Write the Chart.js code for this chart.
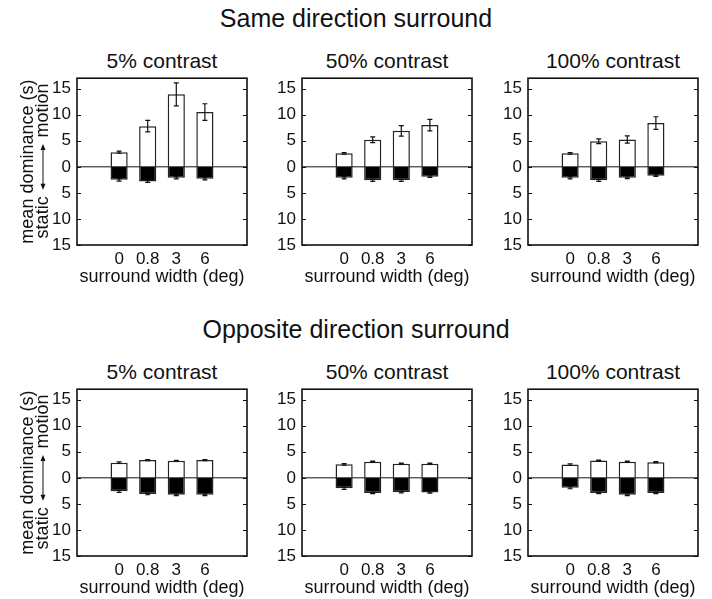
<!DOCTYPE html>
<html>
<head>
<meta charset="utf-8">
<script src="https://cdn.jsdelivr.net/npm/chart.js@4.4.1/dist/chart.umd.min.js"></script>
<style>
  body { margin: 0; background: #fff; }
  #fig { position: relative; width: 712px; height: 599px; font-family: "Liberation Sans", Arial, sans-serif; color: #111; }
  .main { position: absolute; left: 0; width: 712px; text-align: center; font-size: 25px; line-height: 25px; white-space: nowrap; }
  .ptitle { position: absolute; width: 170px; text-align: center; font-size: 21px; line-height: 21px; white-space: nowrap; }
  canvas { position: absolute; }
</style>
</head>
<body>
<div id="fig"></div>
<script>
// surround widths (x categories) and y ticks
const widths = ['0', '0.8', '3', '6'];
const yTickVals = [-15, -10, -5, 0, 5, 10, 15];
const contrasts = ['5% contrast', '50% contrast', '100% contrast'];
const rowTitles = ['Same direction surround', 'Opposite direction surround'];

// same direction surround: mean dominance (s)
const sameMotion5 = [2.8, 7.8, 13.9, 10.5];
const sameMotionErr5 = [0.2, 1.1, 2.2, 1.6];
const sameStatic5 = [2.5, 2.8, 2.1, 2.3];
const sameStaticErr5 = [0.25, 0.2, 0.2, 0.2];
const sameMotion50 = [2.6, 5.2, 6.9, 8.0];
const sameMotionErr50 = [0.15, 0.55, 1.0, 1.1];
const sameStatic50 = [2.1, 2.6, 2.6, 1.9];
const sameStaticErr50 = [0.2, 0.2, 0.2, 0.15];
const sameMotion100 = [2.6, 4.9, 5.25, 8.4];
const sameMotionErr100 = [0.15, 0.45, 0.7, 1.2];
const sameStatic100 = [2.1, 2.6, 2.1, 1.7];
const sameStaticErr100 = [0.2, 0.2, 0.15, 0.15];

// opposite direction surround
const oppMotion5 = [2.9, 3.4, 3.25, 3.4];
const oppMotionErr5 = [0.15, 0.1, 0.1, 0.1];
const oppStatic5 = [2.6, 3.1, 3.25, 3.25];
const oppStaticErr5 = [0.2, 0.15, 0.15, 0.15];
const oppMotion50 = [2.6, 3.1, 2.7, 2.7];
const oppMotionErr50 = [0.15, 0.1, 0.1, 0.1];
const oppStatic50 = [2.0, 2.9, 2.75, 2.8];
const oppStaticErr50 = [0.2, 0.15, 0.15, 0.15];
const oppMotion100 = [2.55, 3.3, 3.1, 3.0];
const oppMotionErr100 = [0.15, 0.1, 0.1, 0.1];
const oppStatic100 = [1.9, 2.9, 3.25, 2.9];
const oppStaticErr100 = [0.2, 0.15, 0.15, 0.15];

const panels = [
  [[sameMotion5, sameMotionErr5, sameStatic5, sameStaticErr5],
   [sameMotion50, sameMotionErr50, sameStatic50, sameStaticErr50],
   [sameMotion100, sameMotionErr100, sameStatic100, sameStaticErr100]],
  [[oppMotion5, oppMotionErr5, oppStatic5, oppStaticErr5],
   [oppMotion50, oppMotionErr50, oppStatic50, oppStaticErr50],
   [oppMotion100, oppMotionErr100, oppStatic100, oppStaticErr100]]
];

const boxLeft = [77, 302, 528];
const boxTop = [74, 385];
const ink = '#111';
const tickFont = { family: '"Liberation Sans", Arial, sans-serif', size: 17 };
const labelFont = { family: '"Liberation Sans", Arial, sans-serif', size: 18 };

// error bars, frame, zero line, inner ticks and the y label
const panelDecor = {
  id: 'panelDecor',
  afterDatasetsDraw(chart, args, opts) {
    const { ctx, chartArea: a, scales: { x, y } } = chart;
    ctx.save();
    ctx.strokeStyle = ink;
    ctx.lineWidth = 1.2;
    chart.data.datasets.forEach(ds => {
      ds.errors.forEach((e, j) => {
        const pt = ds.data[j];
        const px = x.getPixelForValue(pt.x);
        const y0 = y.getPixelForValue(pt.y - e);
        const y1 = y.getPixelForValue(pt.y + e);
        ctx.beginPath();
        ctx.moveTo(px, y0); ctx.lineTo(px, y1);
        ctx.moveTo(px - 2.5, y0); ctx.lineTo(px + 2.5, y0);
        ctx.moveTo(px - 2.5, y1); ctx.lineTo(px + 2.5, y1);
        ctx.stroke();
      });
    });

    // zero line
    const z = y.getPixelForValue(0);
    ctx.lineWidth = 1;
    ctx.beginPath();
    ctx.moveTo(a.left, z); ctx.lineTo(a.right, z);
    ctx.stroke();

    // inward ticks
    y.ticks.forEach(t => {
      const py = Math.round(y.getPixelForValue(t.value)) + 0.5;
      ctx.beginPath();
      ctx.moveTo(a.left, py); ctx.lineTo(a.left + 4, py);
      ctx.moveTo(a.right - 4, py); ctx.lineTo(a.right, py);
      ctx.stroke();
    });

    // frame
    ctx.lineWidth = 1.6;
    ctx.strokeRect(a.left, a.top, a.right - a.left, a.bottom - a.top);

    if (opts.yTitle) {
      ctx.fillStyle = ink;
      ctx.font = '18px "Liberation Sans", Arial, sans-serif';
      ctx.textAlign = 'center';
      ctx.textBaseline = 'alphabetic';
      const rot = (txt, px, py) => {
        ctx.save();
        ctx.translate(px, py);
        ctx.rotate(-Math.PI / 2);
        ctx.fillText(txt, 0, 0);
        ctx.restore();
      };
      rot('mean dominance (s)', a.left - 44, (a.top + a.bottom) / 2);
      rot('motion', a.left - 29, y.getPixelForValue(10.8));
      rot('static', a.left - 29, y.getPixelForValue(-9.7));
      // double arrow
      const ax = a.left - 34;
      const ya = y.getPixelForValue(4.4), yb = y.getPixelForValue(-4.4);
      ctx.lineWidth = 1;
      ctx.beginPath();
      ctx.moveTo(ax, ya + 2); ctx.lineTo(ax, yb - 2);
      ctx.stroke();
      ctx.beginPath();
      ctx.moveTo(ax, ya); ctx.lineTo(ax - 2.5, ya + 6); ctx.lineTo(ax + 2.5, ya + 6); ctx.closePath();
      ctx.moveTo(ax, yb); ctx.lineTo(ax - 2.5, yb - 6); ctx.lineTo(ax + 2.5, yb - 6); ctx.closePath();
      ctx.fill();
    }
    ctx.restore();
  }
};

const fig = document.getElementById('fig');

rowTitles.forEach((t, r) => {
  const d = document.createElement('div');
  d.className = 'main';
  d.style.top = (boxTop[r] - 68) + 'px';
  d.textContent = t;
  fig.appendChild(d);
});

panels.forEach((row, r) => {
  row.forEach((p, c) => {
    const [motion, motionErr, stat, statErr] = p;

    const title = document.createElement('div');
    title.className = 'ptitle';
    title.style.left = boxLeft[c] + 'px';
    title.style.top = (boxTop[r] - 24) + 'px';
    title.textContent = contrasts[c];
    fig.appendChild(title);

    const canvas = document.createElement('canvas');
    canvas.width = 250;
    canvas.height = 12 + 171 + 43;
    canvas.style.left = (boxLeft[c] - 70) + 'px';
    canvas.style.top = (boxTop[r] - 12) + 'px';
    fig.appendChild(canvas);

    new Chart(canvas.getContext('2d'), {
      type: 'bar',
      data: {
        datasets: [
          {
            label: 'motion',
            data: motion.map((v, i) => ({ x: i + 1, y: v })),
            errors: motionErr,
            backgroundColor: '#fff',
            borderColor: '#222',
            borderWidth: 1.5,
            barPercentage: 0.6,
            categoryPercentage: 1,
          },
          {
            label: 'static',
            data: stat.map((v, i) => ({ x: i + 1, y: -v })),
            errors: statErr,
            backgroundColor: '#000',
            borderColor: '#222',
            borderWidth: 1.5,
            barPercentage: 0.6,
            categoryPercentage: 1,
          },
        ],
      },
      options: {
        responsive: false,
        animation: false,
        layout: { padding: { top: 12, right: 10, left: 0, bottom: 0 } },
        plugins: {
          legend: { display: false },
          tooltip: { enabled: false },
          panelDecor: { yTitle: c === 0 },
        },
        scales: {
          x: {
            type: 'linear',
            min: 0.27,
            max: 4.73,
            stacked: true,
            grid: { display: false, drawTicks: false },
            border: { display: false },
            afterBuildTicks: s => { s.ticks = widths.map((w, i) => ({ value: i + 1 })); },
            afterFit: s => { s.height = 43; },
            ticks: { callback: v => widths[v - 1], font: tickFont, color: ink, padding: 4, autoSkip: false, maxRotation: 0 },
            title: { display: true, text: 'surround width (deg)', font: labelFont, color: ink, padding: 0 },
          },
          y: {
            min: -15,
            max: 17,
            stacked: true,
            grid: { display: false, drawTicks: false },
            border: { display: false },
            afterBuildTicks: s => { s.ticks = yTickVals.map(v => ({ value: v })); },
            afterFit: s => { s.width = 70; },
            ticks: { callback: v => Math.abs(v), font: tickFont, color: ink, padding: 6 },
          },
        },
      },
      plugins: [panelDecor],
    });
  });
});
</script>
</body>
</html>
